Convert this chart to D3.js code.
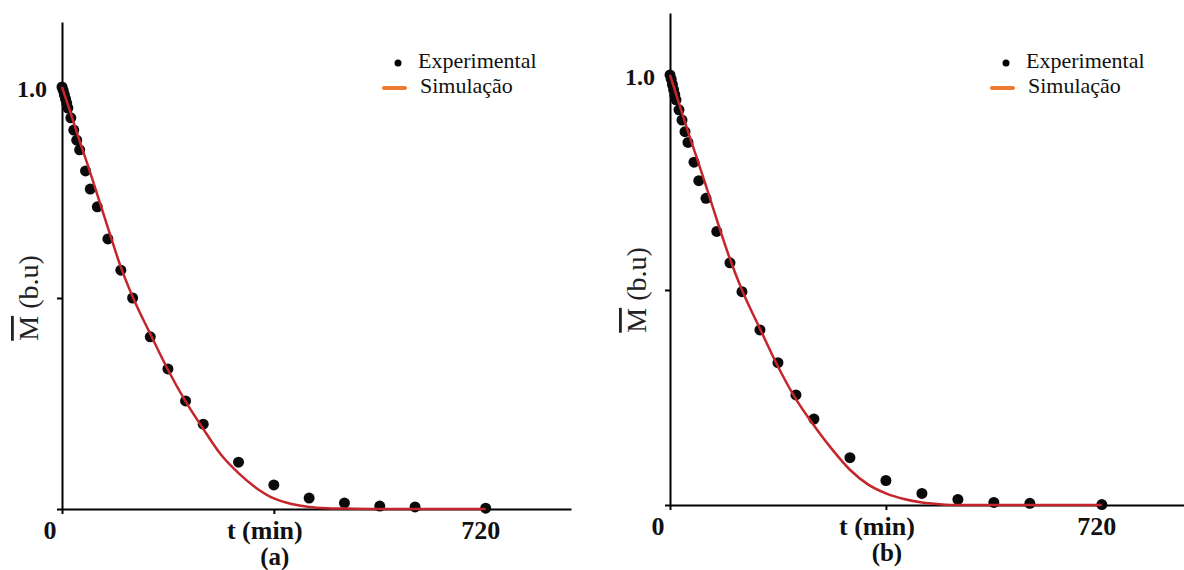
<!DOCTYPE html>
<html>
<head>
<meta charset="utf-8">
<script src="https://cdn.jsdelivr.net/npm/d3@7"></script>
<style>
  body { margin: 0; background: #fff; }
  svg { display: block; }
  svg text { font-family: "Liberation Serif", "Times New Roman", Times, serif; }
</style>
</head>
<body>
<div id="chart"></div>
<script>
// experimental sample times (min)
const times = [0, 2, 4, 6, 8, 10, 15, 20, 25, 30, 40, 48, 60, 78, 100, 120, 150, 180, 210, 240, 300, 360, 420, 480, 540, 600, 720];
const expA = [1.0, 0.992, 0.982, 0.972, 0.962, 0.95, 0.927, 0.898, 0.874, 0.851, 0.801, 0.758, 0.716, 0.640, 0.566, 0.5, 0.408, 0.332, 0.256, 0.201, 0.111, 0.057, 0.026, 0.014, 0.007, 0.005, 0.002];
const expB = [1.0, 0.99, 0.978, 0.966, 0.954, 0.942, 0.919, 0.895, 0.868, 0.843, 0.797, 0.754, 0.713, 0.636, 0.563, 0.496, 0.407, 0.331, 0.256, 0.2, 0.11, 0.057, 0.027, 0.013, 0.006, 0.004, 0.001];

// simulated curve
const simTimes = [0, 10, 20, 30, 45, 60, 80, 100, 120, 150, 180, 210, 240, 270, 300, 330, 360, 390, 420, 450, 480, 540, 600, 720];
const simA = [1.0, 0.958, 0.915, 0.872, 0.81, 0.745, 0.658, 0.573, 0.503, 0.415, 0.33, 0.255, 0.19, 0.129, 0.085, 0.05, 0.025, 0.012, 0.005, 0.002, 0.001, 0, 0, 0];
const simB = [1.0, 0.956, 0.912, 0.868, 0.806, 0.742, 0.655, 0.572, 0.5, 0.41, 0.322, 0.246, 0.185, 0.13, 0.082, 0.048, 0.027, 0.014, 0.006, 0.002, 0, 0, 0, 0];

const xTicks = [0, 360, 720];
const xTickLabels = ["0", "t (min)", "720"];
const yTicks = [0, 0.5, 1.0];
const yTickLabels = ["", "", "1.0"];
const legendLabels = ["Experimental", "Simulação"];
const panelLabels = ["(a)", "(b)"];

const FONT = '"Liberation Serif", "Times New Roman", Times, serif';
const W = 1184, H = 570;
const svg = d3.select("#chart").append("svg")
    .attr("width", W)
    .attr("height", H)
    .attr("font-family", FONT);

function drawPanel(p) {
  var x = d3.scaleLinear().domain([0, p.xMax]).range([p.left, p.right]),
      y = d3.scaleLinear().domain([0, p.yMax]).range([p.bottom, p.top]);

  var g = svg.append("g");

  // y axis
  var yAxis = d3.axisLeft(y)
      .tickValues(yTicks)
      .tickSize(5)
      .tickSizeOuter(0)
      .tickPadding(10)
      .tickFormat(function(d, i) { return yTickLabels[i]; });
  var ya = g.append("g")
      .attr("transform", "translate(" + p.left + ",0)")
      .call(yAxis);
  ya.attr("font-family", FONT);
  ya.selectAll("path, line").attr("stroke", "#000").attr("stroke-width", 2);
  ya.selectAll("text")
      .attr("font-size", 24)
      .attr("font-weight", "bold")
      .attr("fill", "#111")
      .attr("dy", "0.4em");

  // x axis
  var xAxis = d3.axisBottom(x)
      .tickValues([0, 360])
      .tickSize(5)
      .tickSizeOuter(0)
      .tickFormat("");
  var xa = g.append("g")
      .attr("transform", "translate(0," + p.bottom + ")")
      .call(xAxis);
  xa.selectAll("path, line").attr("stroke", "#000").attr("stroke-width", 2);

  // x tick labels
  var offs = [-12, -9, -5];
  g.selectAll(".xlab")
      .data(xTicks)
      .enter().append("text")
      .attr("class", "xlab")
      .attr("x", function(d, i) { return x(d) + offs[i]; })
      .attr("y", p.bottom + 30)
      .attr("text-anchor", "middle")
      .attr("font-size", 26)
      .attr("font-weight", "bold")
      .attr("fill", "#111")
      .text(function(d, i) { return xTickLabels[i]; });

  g.append("text")
      .attr("x", x(360) + 1)
      .attr("y", p.bottom + 56)
      .attr("text-anchor", "middle")
      .attr("font-size", 25)
      .attr("font-weight", "bold")
      .attr("fill", "#111")
      .text(p.label);

  // y label with overline on M
  var yl = g.append("text")
      .attr("transform", "translate(" + (p.left - 24) + "," + y(0.5) + ") rotate(-90)")
      .attr("text-anchor", "middle")
      .attr("font-size", 28)
      .attr("fill", "#222");
  yl.append("tspan").style("text-decoration", "overline").text("M");
  yl.append("tspan").text(" (b.u)");

  // experimental points
  g.append("g").selectAll("circle")
      .data(p.exp)
      .enter().append("circle")
      .attr("cx", function(d, i) { return x(times[i]); })
      .attr("cy", function(d) { return y(d); })
      .attr("r", 5.5)
      .attr("fill", "#0a0a0a");

  // simulation curve
  var line = d3.line()
      .x(function(d, i) { return x(simTimes[i]); })
      .y(function(d) { return y(d); })
      .curve(d3.curveMonotoneX);
  g.append("path")
      .datum(p.sim)
      .attr("d", line)
      .attr("fill", "none")
      .attr("stroke", "#c4262b")
      .attr("stroke-width", 2.5);

  // legend
  var lx = p.left + 336;
  g.append("circle")
      .attr("cx", lx)
      .attr("cy", 63)
      .attr("r", 3.5)
      .attr("fill", "#000");
  g.append("text")
      .attr("x", lx + 20)
      .attr("y", 68)
      .attr("font-size", 22)
      .attr("fill", "#111")
      .text(legendLabels[0]);
  g.append("line")
      .attr("x1", lx - 14).attr("x2", lx + 7)
      .attr("y1", 88).attr("y2", 88)
      .attr("stroke", "#ed7d31")
      .attr("stroke-width", 4)
      .attr("stroke-linecap", "round");
  g.append("text")
      .attr("x", lx + 22)
      .attr("y", 93)
      .attr("font-size", 22)
      .attr("fill", "#111")
      .text(legendLabels[1]);
}

drawPanel({left: 62, right: 571, xMax: 865, bottom: 509, top: 22, yMax: 1.154,
           exp: expA, sim: simA, label: panelLabels[0]});
drawPanel({left: 670, right: 1184, xMax: 857, bottom: 505, top: 13, yMax: 1.144,
           exp: expB, sim: simB, label: panelLabels[1]});
</script>
</body>
</html>
